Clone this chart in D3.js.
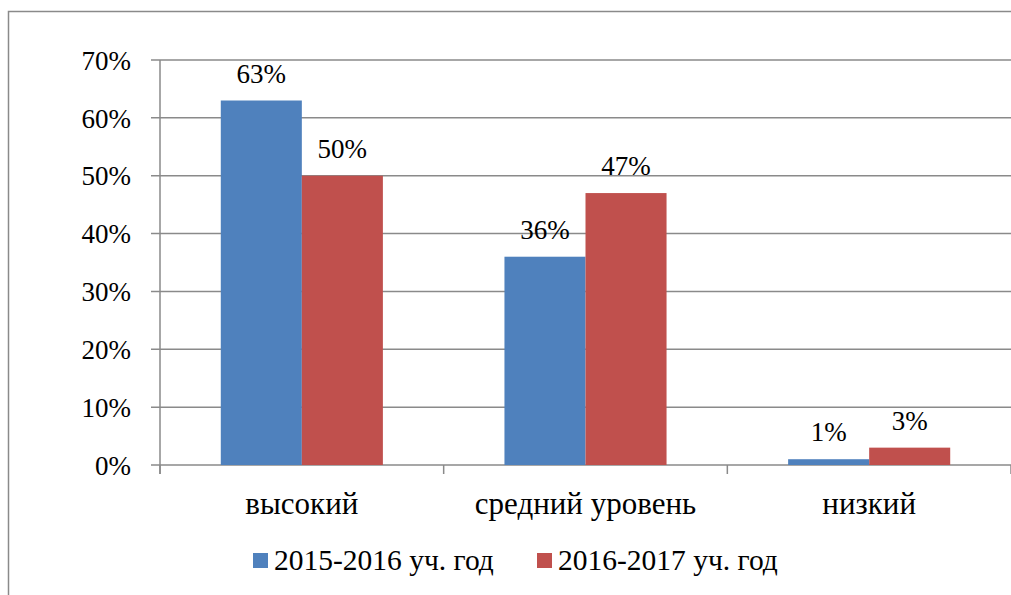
<!DOCTYPE html>
<html><head><meta charset="utf-8">
<script src="https://cdn.jsdelivr.net/npm/d3@7"></script>
<style>body{margin:0;background:#fff}svg{display:block}</style>
</head><body>
<svg id="c" width="1011" height="595"></svg>
<script>
const categories = ["высокий", "средний уровень", "низкий"];
const seriesNames = ["2015-2016 уч. год", "2016-2017 уч. год"];
const values2015 = [0.63, 0.36, 0.01];
const values2016 = [0.50, 0.47, 0.03];
const yTicks = [0, 0.1, 0.2, 0.3, 0.4, 0.5, 0.6, 0.7];
const colors = ["#4F81BD", "#C0504D"];

const FONT = "'Liberation Serif', 'Times New Roman', serif";
const svg = d3.select("#c");
const fs = 27, fsCat = 31, fsLeg = 29.5;
const pLeft = 160, pRight = 1011, pTop = 60, pBottom = 465;

// outer chart border
svg.append("path").attr("d", "M8.5,595 V11.5 H1011").attr("fill","none").attr("stroke","#8a8a8a").attr("stroke-width",1.5);

const y = d3.scaleLinear().domain([0, 0.7]).range([pBottom, pTop]);
const x0 = d3.scaleBand().domain(categories).range([pLeft, pRight]).paddingInner(0).paddingOuter(0);
const x1 = d3.scaleBand().domain([0,1]).range([0, x0.bandwidth()]).paddingInner(0).paddingOuter(0.75);

// gridlines
svg.append("g").selectAll("line").data(yTicks).join("line")
  .attr("x1", pLeft-9).attr("x2", pRight).attr("y1", d=>y(d)).attr("y2", d=>y(d))
  .attr("stroke", "#8a8a8a").attr("stroke-width", 1.5);

// y axis
svg.append("line").attr("x1", pLeft).attr("x2", pLeft).attr("y1", pTop).attr("y2", pBottom+9)
  .attr("stroke","#8a8a8a").attr("stroke-width",1.5);
const yAxis = d3.axisLeft(y).tickValues(yTicks).tickFormat(d3.format(".0%")).tickSize(0).tickPadding(0);
const ya = svg.append("g").attr("transform", `translate(${pLeft-29},0)`).call(yAxis);
ya.attr("font-family", null).attr("font-size", null);
ya.select(".domain").remove();
ya.selectAll("text").style("font-family", FONT).style("font-size", fs+"px").attr("fill", "#000").attr("dy","0.34em");

// category ticks
const catEdges = categories.map(c => x0(c)).concat([pRight]);
svg.append("g").selectAll("line").data(catEdges).join("line")
  .attr("x1", d=>d).attr("x2", d=>d).attr("y1", pBottom).attr("y2", pBottom+9)
  .attr("stroke","#8a8a8a").attr("stroke-width",1.5);

// bars
const seriesVals = [values2015, values2016];
const groups = svg.append("g").selectAll("g").data(categories).join("g")
  .attr("transform", c => `translate(${x0(c)},0)`);
groups.selectAll("rect").data((c,i) => seriesVals.map((s,k)=>({k, v:s[i]}))).join("rect")
  .attr("x", d => x1(d.k)).attr("width", x1.bandwidth())
  .attr("y", d => y(d.v)).attr("height", d => y(0) - y(d.v))
  .attr("fill", d => colors[d.k]);
groups.selectAll("text.lbl").data((c,i) => seriesVals.map((s,k)=>({k, v:s[i]}))).join("text")
  .attr("class","lbl")
  .attr("x", d => x1(d.k) + x1.bandwidth()/2).attr("y", d => y(d.v) - 18)
  .attr("text-anchor","middle").style("font-family", FONT).style("font-size", fs+"px")
  .text(d => d3.format(".0%")(d.v));

// category labels
svg.append("g").selectAll("text").data(categories).join("text")
  .attr("x", c => x0(c) + x0.bandwidth()/2).attr("y", 514)
  .attr("text-anchor","middle").style("font-family", FONT).style("font-size", fsCat+"px").text(c=>c);

// legend
const legX = [253, 537];
const leg = svg.append("g").selectAll("g").data(seriesNames).join("g")
  .attr("transform", (d,i)=>`translate(${legX[i]},553)`);
leg.append("rect").attr("width",15).attr("height",15).attr("fill",(d,i)=>colors[i]);
leg.append("text").attr("x",21).attr("y",17).style("font-family", FONT).style("font-size", fsLeg+"px").text(d=>d);
</script>
</body></html>
